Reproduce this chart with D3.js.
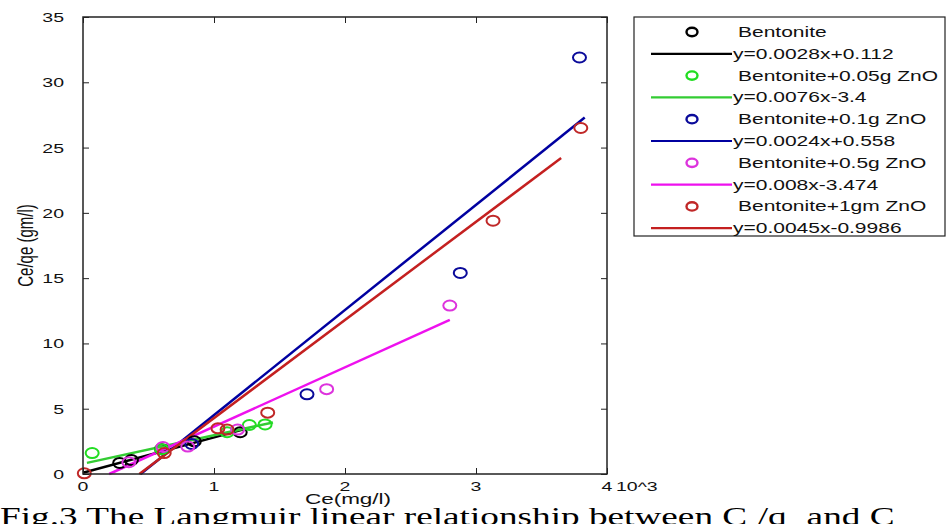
<!DOCTYPE html>
<html>
<head>
<meta charset="utf-8">
<script src="https://cdn.jsdelivr.net/npm/d3@7"></script>
<style>
  body { margin: 0; background: #fff; }
  svg { display: block; }
</style>
</head>
<body>
<div id="chart"></div>
<script>
// Ce in 10^3 mg/l, Ce/qe in gm/l
const seriesNames = ["Bentonite", "Bentonite+0.05g ZnO", "Bentonite+0.1g ZnO", "Bentonite+0.5g ZnO", "Bentonite+1gm ZnO"];
const fitLabels = ["y=0.0028x+0.112", "y=0.0076x-3.4", "y=0.0024x+0.558", "y=0.008x-3.474", "y=0.0045x-0.9986"];
const markerColors = ["#000000", "#22dd22", "#0a0a9a", "#dd33dd", "#c02828"];
const lineColors = ["#000000", "#33cc33", "#0000a0", "#ee11ee", "#c42020"];

const bentoniteX = [0.28, 0.37, 0.6, 0.85, 1.2];
const bentoniteY = [0.85, 1.07, 1.9, 2.5, 3.2];
const zno005X = [0.07, 0.6, 1.1, 1.27, 1.39];
const zno005Y = [1.6, 1.9, 3.2, 3.75, 3.8];
const zno01X = [0.83, 1.71, 2.88, 3.79];
const zno01Y = [2.3, 6.1, 15.4, 31.9];
const zno05X = [0.35, 0.61, 0.8, 1.18, 1.86, 2.8];
const zno05Y = [0.9, 2.07, 2.1, 3.4, 6.5, 12.9];
const zno1X = [0.01, 0.62, 1.03, 1.1, 1.41, 3.13, 3.8];
const zno1Y = [0.05, 1.6, 3.5, 3.4, 4.7, 19.4, 26.5];

// fitted line end points (as drawn)
const fitX = [[0, 1.22], [0.03, 1.45], [0.44, 3.83], [0.2, 2.8], [0.43, 3.65]];
const fitY = [[0.1, 3.4], [0.85, 3.95], [0, 27.3], [0, 11.8], [0, 24.2]];

const xTicks = [0, 1, 2, 3, 4];
const yTicks = [0, 5, 10, 15, 20, 25, 30, 35];

const pointsX = [bentoniteX, zno005X, zno01X, zno05X, zno1X];
const pointsY = [bentoniteY, zno005Y, zno01Y, zno05Y, zno1Y];

const W = 948, H = 524;
const plot = { left: 83, right: 607, top: 17, bottom: 474 };
const sx = 1.5; // the picture is stretched sideways
const sans = "Arial, 'Liberation Sans', sans-serif";

const svg = d3.select("#chart").append("svg")
  .attr("width", W).attr("height", H)
  .style("font-family", sans);

const x = d3.scaleLinear().domain([0, 4]).range([plot.left, plot.right]);
const y = d3.scaleLinear().domain([0, 35]).range([plot.bottom, plot.top]);

function wideText(g, px, py, str, size, anchor) {
  return g.append("text")
    .attr("transform", `translate(${px},${py}) scale(${sx},1)`)
    .attr("text-anchor", anchor || "start")
    .attr("font-size", size).attr("fill", "#111")
    .text(str);
}

// fit lines
fitX.forEach((fx, i) => {
  svg.append("line")
    .attr("x1", x(fx[0])).attr("y1", y(fitY[i][0]))
    .attr("x2", x(fx[1])).attr("y2", y(fitY[i][1]))
    .attr("stroke", lineColors[i]).attr("stroke-width", 2.5);
});

// markers
pointsX.forEach((px, i) => {
  svg.append("g").selectAll("ellipse")
    .data(px.map((v, j) => [v, pointsY[i][j]]))
    .join("ellipse")
    .attr("cx", d => x(d[0])).attr("cy", d => y(d[1]))
    .attr("rx", 6.5).attr("ry", 5)
    .attr("fill", "none")
    .attr("stroke", markerColors[i]).attr("stroke-width", 2);
});

// axes box
svg.append("rect")
  .attr("x", plot.left).attr("y", plot.top)
  .attr("width", plot.right - plot.left).attr("height", plot.bottom - plot.top)
  .attr("fill", "none").attr("stroke", "#222").attr("stroke-width", 1.5);

const tl = 6;
const axB = svg.append("g").attr("transform", `translate(0,${plot.bottom})`)
  .call(d3.axisBottom(x).tickValues(xTicks).tickSizeInner(-tl).tickSizeOuter(0).tickFormat(""));
const axT = svg.append("g").attr("transform", `translate(0,${plot.top})`)
  .call(d3.axisTop(x).tickValues(xTicks).tickSizeInner(-tl).tickSizeOuter(0).tickFormat(""));
const axL = svg.append("g").attr("transform", `translate(${plot.left},0)`)
  .call(d3.axisLeft(y).tickValues(yTicks).tickSizeInner(-tl).tickSizeOuter(0).tickFormat(""));
const axR = svg.append("g").attr("transform", `translate(${plot.right},0)`)
  .call(d3.axisRight(y).tickValues(yTicks).tickSizeInner(-tl).tickSizeOuter(0).tickFormat(""));
[axB, axT, axL, axR].forEach(a => {
  a.select(".domain").remove();
  a.selectAll("line").attr("stroke", "#222");
});

// tick labels
const tickG = svg.append("g");
xTicks.forEach(t => wideText(tickG, x(t), plot.bottom + 17, String(t), 13, "middle"));
yTicks.forEach(t => wideText(tickG, plot.left - 19, y(t) + 5, String(t), 13, "end"));
wideText(tickG, x(4) + 9, plot.bottom + 17, "10^3", 13, "start");

wideText(svg, x(2) + 3, plot.bottom + 30, "Ce(mg/l)", 15, "middle");

svg.append("text")
  .attr("transform", `translate(33,${(plot.top + plot.bottom) / 2}) scale(${sx},1) rotate(-90)`)
  .attr("text-anchor", "middle").attr("font-size", 15).attr("fill", "#111")
  .text("Ce/qe (gm/l)");

// legend
const lg = svg.append("g");
lg.append("rect")
  .attr("x", 634).attr("y", 17).attr("width", 311).attr("height", 219)
  .attr("fill", "#fff").attr("stroke", "#222").attr("stroke-width", 1.2);
const rowH = 21.8;
seriesNames.forEach((name, i) => {
  const yMark = 32 + i * 2 * rowH;
  const yLine = yMark + rowH;
  lg.append("ellipse")
    .attr("cx", 692).attr("cy", yMark).attr("rx", 5.5).attr("ry", 4.2)
    .attr("fill", "none").attr("stroke", markerColors[i]).attr("stroke-width", 2.4);
  wideText(lg, 738, yMark + 5, name, 14);
  lg.append("line")
    .attr("x1", 651).attr("x2", 732).attr("y1", yLine).attr("y2", yLine)
    .attr("stroke", lineColors[i]).attr("stroke-width", 2.2);
  wideText(lg, 733, yLine + 5, fitLabels[i], 14);
});

// caption (cut off at the bottom of the picture)
const cap = svg.append("text")
  .attr("transform", `translate(0,525) scale(1.49,1)`)
  .attr("font-family", "'Times New Roman', 'Liberation Serif', serif")
  .attr("font-size", 25).attr("fill", "#000");
cap.append("tspan").text("Fig.3 The Langmuir linear relationship between C");
cap.append("tspan").attr("dy", 12).attr("font-size", 16).text("e");
cap.append("tspan").attr("dy", -12).text("/q");
cap.append("tspan").attr("dy", 12).attr("font-size", 16).text("e");
cap.append("tspan").attr("dy", -12).text(" and C");
cap.append("tspan").attr("dy", 12).attr("font-size", 16).text("e");
</script>
</body>
</html>
